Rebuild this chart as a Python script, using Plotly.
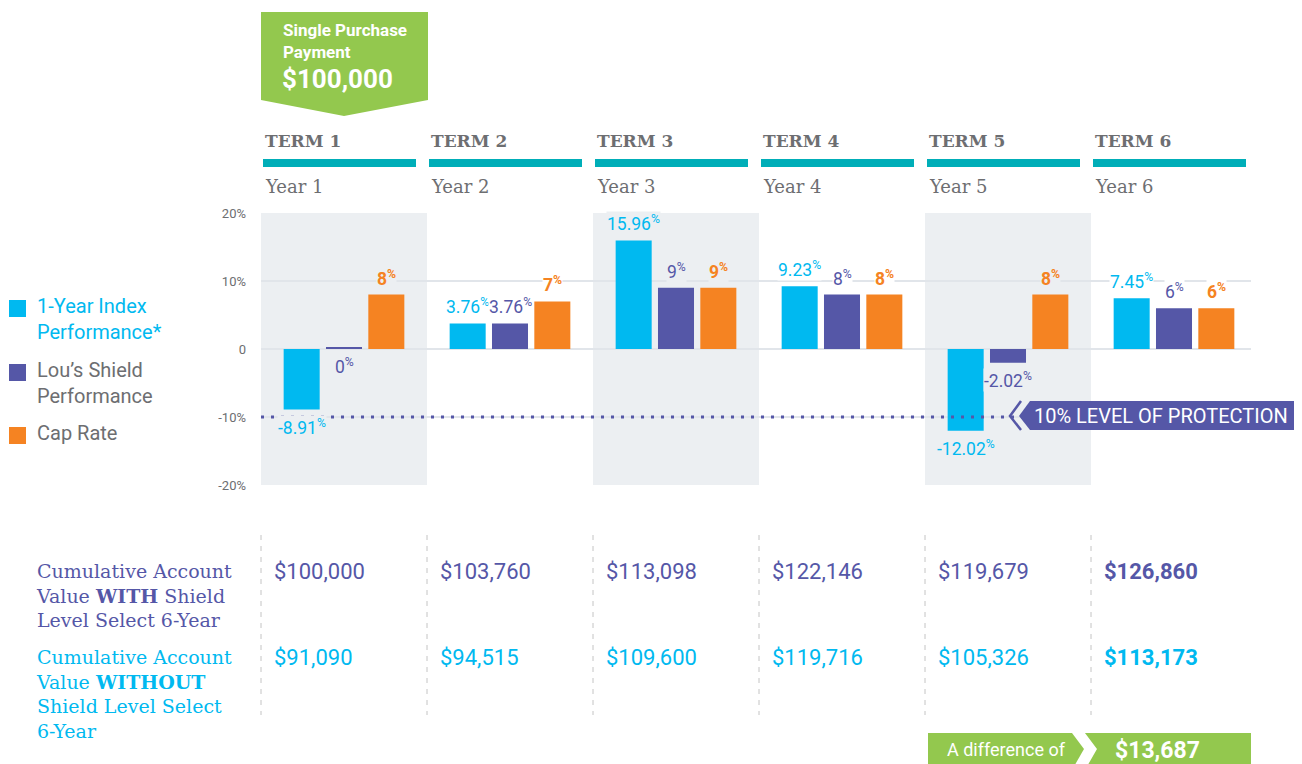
import plotly.graph_objects as go

# ---------------- data ----------------
terms = ["TERM 1", "TERM 2", "TERM 3", "TERM 4", "TERM 5", "TERM 6"]
years = ["Year 1", "Year 2", "Year 3", "Year 4", "Year 5", "Year 6"]
index_perf = [-8.91, 3.76, 15.96, 9.23, -12.02, 7.45]
shield_perf = [0, 3.76, 9, 8, -2.02, 6]
cap_rate = [8, 7, 9, 8, 8, 6]
with_shield = ["$100,000", "$103,760", "$113,098", "$122,146", "$119,679", "$126,860"]
without_shield = ["$91,090", "$94,515", "$109,600", "$119,716", "$105,326", "$113,173"]
y_ticks = [-20, -10, 0, 10, 20]
y_tick_text = ["-20%", "-10%", "0", "10%", "20%"]
protection_level = -10
payment = "$100,000"
difference = "$13,687"

# ---------------- style ----------------
CYAN = "#00b9f0"
PURPLE = "#5557a7"
ORANGE = "#f58322"
GREEN = "#93c84e"
TEAL = "#00aeb8"
GRAY = "#6d6e71"
SHADE = "#eceff2"
SANS = "Roboto"
SLAB = "DejaVu Serif"

OFF = 8  # page body margin
W, H = 1302 - OFF, 764 - OFF
L, R, T, B = 261, 1251, 213, 485  # plot area in page pixels
COLW = 166.0

def px(xp):
    return (xp - L) / (R - L)

def py(yp):
    return (B - yp) / (B - T)

def path(points, close=True):
    s = "M " + " L ".join(f"{px(a):.5f},{py(b):.5f}" for a, b in points)
    return s + (" Z" if close else "")

fig = go.Figure()

n = len(terms)
offs = [-0.255, 0.0, 0.255]
bw = 0.217
series = [(index_perf, CYAN), (shield_perf, PURPLE), (cap_rate, ORANGE)]
for (vals, col), off in zip(series, offs):
    disp = [v if v != 0 else 0.3 for v in vals]
    fig.add_trace(go.Bar(x=[i + off for i in range(n)], y=disp, width=bw,
                         marker=dict(color=col, line=dict(width=0)),
                         hoverinfo="skip", showlegend=False))

shapes = []
ann = []

# shaded columns
for i in range(0, n, 2):
    shapes.append(dict(type="rect", xref="x", yref="y", x0=i - 0.5, x1=i + 0.5,
                       y0=-20, y1=20, fillcolor=SHADE, line=dict(width=0), layer="below"))

# protection dotted line
shapes.append(dict(type="line", xref="x", yref="y", x0=-0.5, x1=4.45,
                   y0=protection_level, y1=protection_level,
                   line=dict(color=PURPLE, width=3, dash="3px,7px")))

# protection banner
shapes.append(dict(type="path", xref="paper", yref="paper",
                   path=path([(1030, 401), (1019, 416), (1030, 430), (1310, 430), (1310, 401)]),
                   fillcolor=PURPLE, line=dict(width=0)))
shapes.append(dict(type="path", xref="paper", yref="paper",
                   path=path([(1021, 401), (1010, 416), (1021, 430)], close=False),
                   line=dict(color=PURPLE, width=2.5)))
ann.append(dict(xref="paper", yref="paper", x=px(1161), y=py(416), text="10% LEVEL OF PROTECTION",
                showarrow=False, font=dict(family=SANS, size=20, color="white"),
                xanchor="center", yanchor="middle"))

# top green banner
shapes.append(dict(type="path", xref="paper", yref="paper",
                   path=path([(261, 12), (428, 12), (428, 100), (344, 116), (261, 100)]),
                   fillcolor=GREEN, line=dict(width=0)))
ann.append(dict(xref="paper", yref="paper", x=px(281), y=py(41), text="<b>Single Purchase<br>Payment</b>",
                showarrow=False, font=dict(family=SANS, size=17, color="white"),
                xanchor="left", yanchor="middle", align="left"))
ann.append(dict(xref="paper", yref="paper", x=px(280), y=py(79), text=f"<b>{payment}</b>",
                showarrow=False, font=dict(family=SANS, size=26, color="white"),
                xanchor="left", yanchor="middle"))

# term headers
for i in range(n):
    left = L + i * COLW
    shapes.append(dict(type="rect", xref="paper", yref="paper",
                       x0=px(left + 2), x1=px(left + 155), y0=py(167), y1=py(159),
                       fillcolor=TEAL, line=dict(width=0)))
    ann.append(dict(xref="paper", yref="paper", x=px(left + 2), y=py(141), text=f"<b>{terms[i]}</b>",
                    showarrow=False, font=dict(family=SLAB, size=17, color=GRAY),
                    xanchor="left", yanchor="middle"))
    ann.append(dict(xref="paper", yref="paper", x=px(left + 2), y=py(187), text=years[i],
                    showarrow=False, font=dict(family=SLAB, size=18, color=GRAY),
                    xanchor="left", yanchor="middle"))

# bar labels
for vals, col, off, bold in [(index_perf, CYAN, offs[0], False), (shield_perf, PURPLE, offs[1], False),
                             (cap_rate, ORANGE, offs[2], True)]:
    for i, v in enumerate(vals):
        txt = f"{v:g}<sup>%</sup>"
        if bold:
            txt = f"<b>{v:g}<sup>%</sup></b>"
        pos = v > 0
        ann.append(dict(xref="x", yref="y", x=i + off, y=v,
                        text=txt, showarrow=False,
                        font=dict(family=SANS, size=17.5, color=col),
                        xanchor="center", yanchor="bottom" if pos else "top",
                        yshift=5 if pos else -5,
                        bgcolor=SHADE if i % 2 == 0 else "white", borderpad=0))

# legend
leg = [("1-Year Index<br>Performance*", CYAN, 300, CYAN),
       ("Lou’s Shield<br>Performance", PURPLE, 364, GRAY),
       ("Cap Rate", ORANGE, 427, GRAY)]
for txt, col, ytop, tcol in leg:
    shapes.append(dict(type="rect", xref="paper", yref="paper", x0=px(9), x1=px(26),
                       y0=py(ytop + 17), y1=py(ytop), fillcolor=col, line=dict(width=0)))
    ann.append(dict(xref="paper", yref="paper", x=px(35), y=py(ytop - 8), text=txt,
                    showarrow=False, font=dict(family=SANS, size=20, color=tcol),
                    xanchor="left", yanchor="top", align="left"))

# table
for i in range(n):
    left = L + i * COLW
    shapes.append(dict(type="line", xref="paper", yref="paper", x0=px(left), x1=px(left),
                       y0=py(535), y1=py(715), line=dict(color="#c4c4c4", width=1, dash="5px,6px")))
    b0, b1 = ("<b>", "</b>") if i == n - 1 else ("", "")
    ann.append(dict(xref="paper", yref="paper", x=px(left + 11), y=py(571), text=b0 + with_shield[i] + b1,
                    showarrow=False, font=dict(family=SANS, size=22, color=PURPLE),
                    xanchor="left", yanchor="middle"))
    ann.append(dict(xref="paper", yref="paper", x=px(left + 11), y=py(657), text=b0 + without_shield[i] + b1,
                    showarrow=False, font=dict(family=SANS, size=22, color=CYAN),
                    xanchor="left", yanchor="middle"))

ann.append(dict(xref="paper", yref="paper", x=px(34), y=py(558),
                text="Cumulative Account<br>Value <b>WITH</b> Shield<br>Level Select 6-Year",
                showarrow=False, font=dict(family=SLAB, size=19, color=PURPLE),
                xanchor="left", yanchor="top", align="left"))
ann.append(dict(xref="paper", yref="paper", x=px(34), y=py(644),
                text="Cumulative Account<br>Value <b>WITHOUT</b><br>Shield Level Select<br>6-Year",
                showarrow=False, font=dict(family=SLAB, size=19, color=CYAN),
                xanchor="left", yanchor="top", align="left"))

# difference banner
shapes.append(dict(type="path", xref="paper", yref="paper",
                   path=path([(928, 733), (1072, 733), (1084, 749), (1072, 770), (928, 770)]),
                   fillcolor=GREEN, line=dict(width=0)))
shapes.append(dict(type="path", xref="paper", yref="paper",
                   path=path([(1085, 733), (1251, 733), (1251, 770), (1085, 770), (1097, 749)]),
                   fillcolor=GREEN, line=dict(width=0)))
ann.append(dict(xref="paper", yref="paper", x=px(945), y=py(749), text="A difference of",
                showarrow=False, font=dict(family=SANS, size=18, color="white"),
                xanchor="left", yanchor="middle"))
ann.append(dict(xref="paper", yref="paper", x=px(1113), y=py(750), text=f"<b>{difference}</b>",
                showarrow=False, font=dict(family=SANS, size=23, color="white"),
                xanchor="left", yanchor="middle"))

fig.update_layout(
    width=W, height=H,
    margin=dict(l=L - OFF, r=1302 - R, t=T - OFF, b=764 - B, pad=0),
    paper_bgcolor="white", plot_bgcolor="white",
    barmode="overlay",
    shapes=shapes, annotations=ann,
    showlegend=False,
    xaxis=dict(range=[-0.5, (R - L) / COLW - 0.5], visible=False, fixedrange=True),
    yaxis=dict(range=[-20, 20], tickvals=y_ticks, ticktext=y_tick_text,
               showgrid=True, gridcolor="#e1e5ea", gridwidth=1.5, zeroline=False,
               showline=False, ticks="", ticklabelstandoff=14,
               tickfont=dict(family=SANS, size=13, color=GRAY), fixedrange=True),
)

fig.write_html("out.html")
